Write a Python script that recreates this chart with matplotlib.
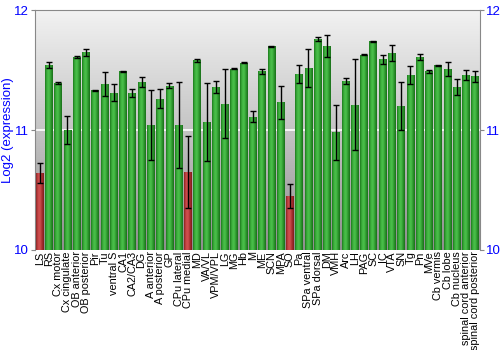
import numpy as np
import matplotlib
matplotlib.use("Agg")
import matplotlib.pyplot as plt
from matplotlib.colors import LinearSegmentedColormap

plt.rcParams["font.family"] = ["Liberation Sans", "DejaVu Sans"]

regions = ["LS", "RS", "Cx motor", "Cx cingulate", "OB anterior", "OB posterior",
           "Pir", "Tu", "ventral S", "CA1", "CA2/CA3", "DG", "A anterior",
           "A posterior", "GP", "CPu lateral", "CPu medial", "MD", "VA/VL",
           "VPM/VPL", "LG", "MG", "Hb", "M", "ME", "SCN", "MPA", "SO", "Pa",
           "SPa ventral", "SPa dorsal", "DM", "VMH", "Arc", "LH", "PAG", "SC",
           "IC", "VTA", "SN", "Tg", "Pn", "MVe", "Cb vermis", "Cb lobe",
           "Cb nucleus", "spinal cord anterior", "spinal cord posterior"]
expression = [10.64, 11.54, 11.39, 11.00, 11.61, 11.65, 11.33, 11.38, 11.31,
              11.49, 11.31, 11.40, 11.04, 11.26, 11.37, 11.04, 10.65, 11.58,
              11.07, 11.36, 11.22, 11.51, 11.56, 11.11, 11.49, 11.70, 11.23,
              10.45, 11.47, 11.52, 11.76, 11.70, 10.98, 11.41, 11.21, 11.63,
              11.74, 11.59, 11.64, 11.20, 11.46, 11.61, 11.49, 11.54, 11.51,
              11.36, 11.46, 11.45]
error = [0.085, 0.025, 0.01, 0.12, 0.01, 0.03, 0.005, 0.10, 0.07, 0.005, 0.035,
         0.045, 0.29, 0.08, 0.02, 0.36, 0.30, 0.01, 0.325, 0.05, 0.29, 0.005,
         0.005, 0.045, 0.02, 0.005, 0.14, 0.10, 0.075, 0.16, 0.017, 0.09, 0.23,
         0.026, 0.38, 0.008, 0.005, 0.04, 0.067, 0.20, 0.078, 0.028, 0.013,
         0.005, 0.057, 0.067, 0.04, 0.046]
low_regions = ["LS", "CPu medial", "SO"]

green = LinearSegmentedColormap.from_list(
    "g", ["#1d7a1d", "#3fb23f", "#4cc04c", "#2e9a2e", "#1a6e1a"])
red = LinearSegmentedColormap.from_list(
    "r", ["#8a2020", "#c84848", "#d05050", "#a83030", "#7e1c1c"])

fig = plt.figure(figsize=(5, 3.5), dpi=100)
ax = fig.add_axes([0.07, 0.286, 0.89, 0.685])

x = np.arange(len(regions))
ax.set_xlim(-0.5, len(regions) - 0.5)
ax.set_ylim(10, 12)

# grey vertical gradient behind the bars
bg = LinearSegmentedColormap.from_list("bg", ["#8e8e8e", "#c4c4c4", "#f2f2f2"])
ax.imshow(np.linspace(0, 1, 256).reshape(-1, 1), cmap=bg, aspect="auto",
          extent=(-0.5, len(regions) - 0.5, 10, 12), origin="lower", zorder=0)
ax.axhline(11, color="white", lw=1.2, zorder=1)

bars = ax.bar(x, np.array(expression) - 10, bottom=10, width=0.84,
              color="none", edgecolor="none", zorder=2)
shade = np.linspace(0, 1, 64).reshape(1, -1)
for b, name in zip(bars, regions):
    cmap = red if name in low_regions else green
    im = ax.imshow(shade, cmap=cmap, aspect="auto", zorder=2,
                   extent=(b.get_x(), b.get_x() + b.get_width(),
                           b.get_y(), b.get_y() + b.get_height()))
    im.set_clip_path(b)

ax.errorbar(x, expression, yerr=error, fmt="none", ecolor="black",
            elinewidth=1, capsize=2, capthick=1, zorder=3)

ax.set_yticks([10, 11, 12])
ax.tick_params(axis="y", colors="#888888", labelcolor="blue", labelsize=9.5,
               length=3, pad=1.5, right=True, labelright=True)
ax.set_ylabel("Log2 (expression)", color="blue", fontsize=9.5)
ax.yaxis.set_label_coords(-0.047, 0.5)
ax.set_xticks(x)
ax.set_xticklabels(regions, rotation=90, fontsize=7.8)
ax.tick_params(axis="x", length=0, pad=1)
for side in ["left", "right", "top"]:
    ax.spines[side].set_color("#888888")
ax.spines["bottom"].set_visible(False)

fig.savefig("out.png", dpi=100)
